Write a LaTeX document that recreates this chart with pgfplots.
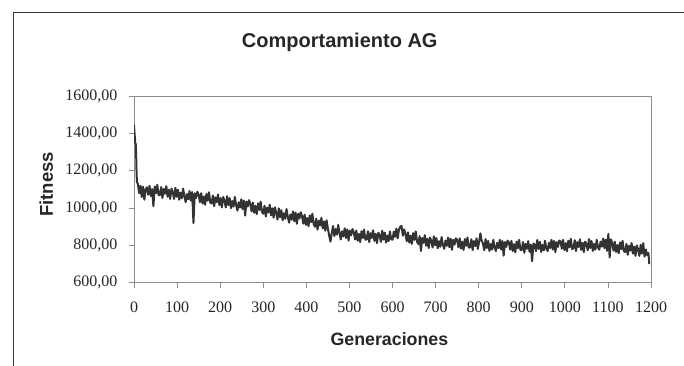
\documentclass[border=0pt]{standalone}
\usepackage{pgfplots}
\pgfplotsset{compat=1.18}
\usepackage{pgfplotstable}
\usepackage{fontspec}
\setmainfont{Liberation Serif}
\newfontfamily\arial{Liberation Sans}
\definecolor{axgray}{RGB}{140,140,140}
\definecolor{linegray}{RGB}{51,51,51}
\definecolor{framegray}{RGB}{55,55,55}

\pgfplotstableread{
g f
0 1445
1 1410
2 1380
3 1350
4 1345
5 1290
6 1180
7 1140
9 1130
12 1080
15 1120
18 1060
21 1115
24 1045
27 1100
30 1112
33 1072
36 1120
39 1065
42 1102
45 1010
48 1116
51 1080
54 1125
57 1070
60 1070
63 1113
66 1055
69 1103
72 1077
75 1118
78 1061
81 1099
84 1049
87 1105
90 1085
93 1049
96 1109
99 1061
102 1099
105 1045
108 1083
111 1053
114 1105
117 1063
120 1032
123 1076
126 1048
129 1092
132 1040
135 1086
138 920
141 1080
144 1054
147 1088
150 1072
153 1032
156 1080
159 1025
162 1062
165 1018
168 1076
171 1040
174 1085
177 1030
180 1025
183 1068
186 1010
189 1058
192 1032
195 1073
198 1016
201 1054
204 1004
207 1060
210 1040
213 1004
216 1064
219 1016
222 1054
225 1000
228 1038
231 1008
234 1060
237 1018
240 987
243 1031
246 1003
249 1047
252 995
255 1041
258 960
261 1035
264 1009
267 1043
270 1022
273 982
276 1030
279 975
282 1012
285 968
288 1026
291 990
294 1035
297 980
300 970
303 1013
306 955
309 1003
312 977
315 1018
318 961
321 999
324 949
327 1005
330 975
333 939
336 999
339 951
342 989
345 935
348 973
351 943
354 995
357 953
360 922
363 966
366 938
369 982
372 930
375 976
378 916
381 970
384 944
387 978
390 957
393 917
396 965
399 910
402 947
405 903
408 961
411 925
414 970
417 915
420 900
423 943
426 885
429 933
432 907
435 948
438 891
441 929
444 879
447 935
450 890
453 854
456 820
459 866
462 904
465 850
468 888
471 858
474 910
477 868
480 832
483 876
486 848
489 892
492 840
495 886
498 826
501 880
504 854
507 888
510 872
513 832
516 880
519 825
522 862
525 818
528 876
531 840
534 885
537 830
540 833
543 876
546 818
549 866
552 840
555 881
558 824
561 862
564 812
567 868
570 855
573 819
576 879
579 831
582 869
585 815
588 853
591 823
594 875
597 833
600 830
603 874
606 846
609 890
612 838
615 884
618 900
621 905
624 852
627 886
630 862
633 822
636 870
639 815
642 852
645 808
648 866
651 830
654 875
657 820
660 807
663 850
666 770
669 840
672 814
675 855
678 798
681 836
684 786
687 842
690 825
693 789
696 849
699 801
702 839
705 785
708 823
711 793
714 845
717 803
720 782
723 826
726 798
729 842
732 790
735 836
738 776
741 830
744 804
747 838
750 830
753 790
756 838
759 783
762 820
765 776
768 834
771 798
774 843
777 788
780 790
783 833
786 775
789 823
792 797
795 838
798 781
801 819
804 865
807 825
810 810
813 774
816 834
819 786
822 824
825 770
828 808
831 778
834 830
837 788
840 770
843 814
846 786
849 830
852 778
855 824
858 745
861 818
864 792
867 826
870 817
873 777
876 825
879 770
882 807
885 763
888 821
891 785
894 830
897 775
900 775
903 818
906 760
909 808
912 782
915 823
918 766
921 804
924 715
927 810
930 805
933 769
936 829
939 781
942 819
945 765
948 803
951 773
954 825
957 783
960 770
963 814
966 786
969 830
972 778
975 824
978 764
981 818
984 792
987 826
990 822
993 782
996 830
999 775
1002 812
1005 768
1008 826
1011 790
1014 835
1017 780
1020 785
1023 828
1026 770
1029 818
1032 792
1035 833
1038 776
1041 814
1044 764
1047 820
1050 810
1053 774
1056 834
1059 786
1062 824
1065 770
1068 808
1071 778
1074 830
1077 788
1080 777
1083 821
1086 793
1089 837
1092 785
1095 831
1098 771
1101 862
1104 735
1107 833
1110 812
1113 772
1116 820
1119 765
1122 802
1125 758
1128 816
1131 780
1134 825
1137 770
1140 765
1143 808
1146 750
1149 798
1152 772
1155 813
1158 756
1161 794
1164 744
1167 800
1170 780
1173 744
1176 804
1179 756
1182 812
1185 740
1188 778
1191 748
1194 760
1196 700
}\fitnessdata

\begin{document}
\begin{tikzpicture}[x=1pt,y=1pt]
\useasboundingbox (0,0) rectangle (684,366);
% outer chart frame (clipped by the image at right and bottom)
\draw[framegray, line width=1.5pt] (13.3,0) -- (13.3,353.7) -- (684,353.7);
\begin{axis}[
  at={(134pt,83.3pt)}, anchor=south west,
  scale only axis, width=517pt, height=186.4pt,
  xmin=0, xmax=1200, ymin=600, ymax=1600,
  xtick={0,100,...,1200}, ytick={600,800,...,1600},
  axis line style={axgray, line width=0.8pt},
  every tick/.style={axgray, line width=0.8pt},
  tick align=outside, major tick length=5pt,
  xtick pos=bottom, ytick pos=left,
  scaled ticks=false,
  /pgf/number format/assume math mode=true,
  tick label style={font=\fontsize{16}{19}\selectfont, text=black!85},
  yticklabel style={xshift=-8pt, /pgf/number format/.cd, fixed, fixed zerofill, precision=2, use comma, 1000 sep={}},
  xticklabel style={yshift=-11pt, /pgf/number format/.cd, fixed, precision=0, 1000 sep={}},
  title={Comportamiento AG},
  every axis title/.style={at={(rel axis cs:0.398,1.263)}, anchor=base,
    font=\arial\bfseries\fontsize{20}{24}\selectfont, text=black!85},
  xlabel={Generaciones},
  every axis x label/.style={at={(rel axis cs:0.494,-0.336)}, anchor=base,
    font=\arial\bfseries\fontsize{17.8}{21}\selectfont, text=black!85},
  ylabel={Fitness},
  every axis y label/.style={at={(rel axis cs:-0.1567,0.527)}, rotate=90, anchor=base,
    font=\arial\bfseries\fontsize{18.5}{22}\selectfont, text=black!85},
]
\addplot[linegray, line width=2pt, line join=round] table[x=g, y=f] {\fitnessdata};
\end{axis}
\end{tikzpicture}
\end{document}
